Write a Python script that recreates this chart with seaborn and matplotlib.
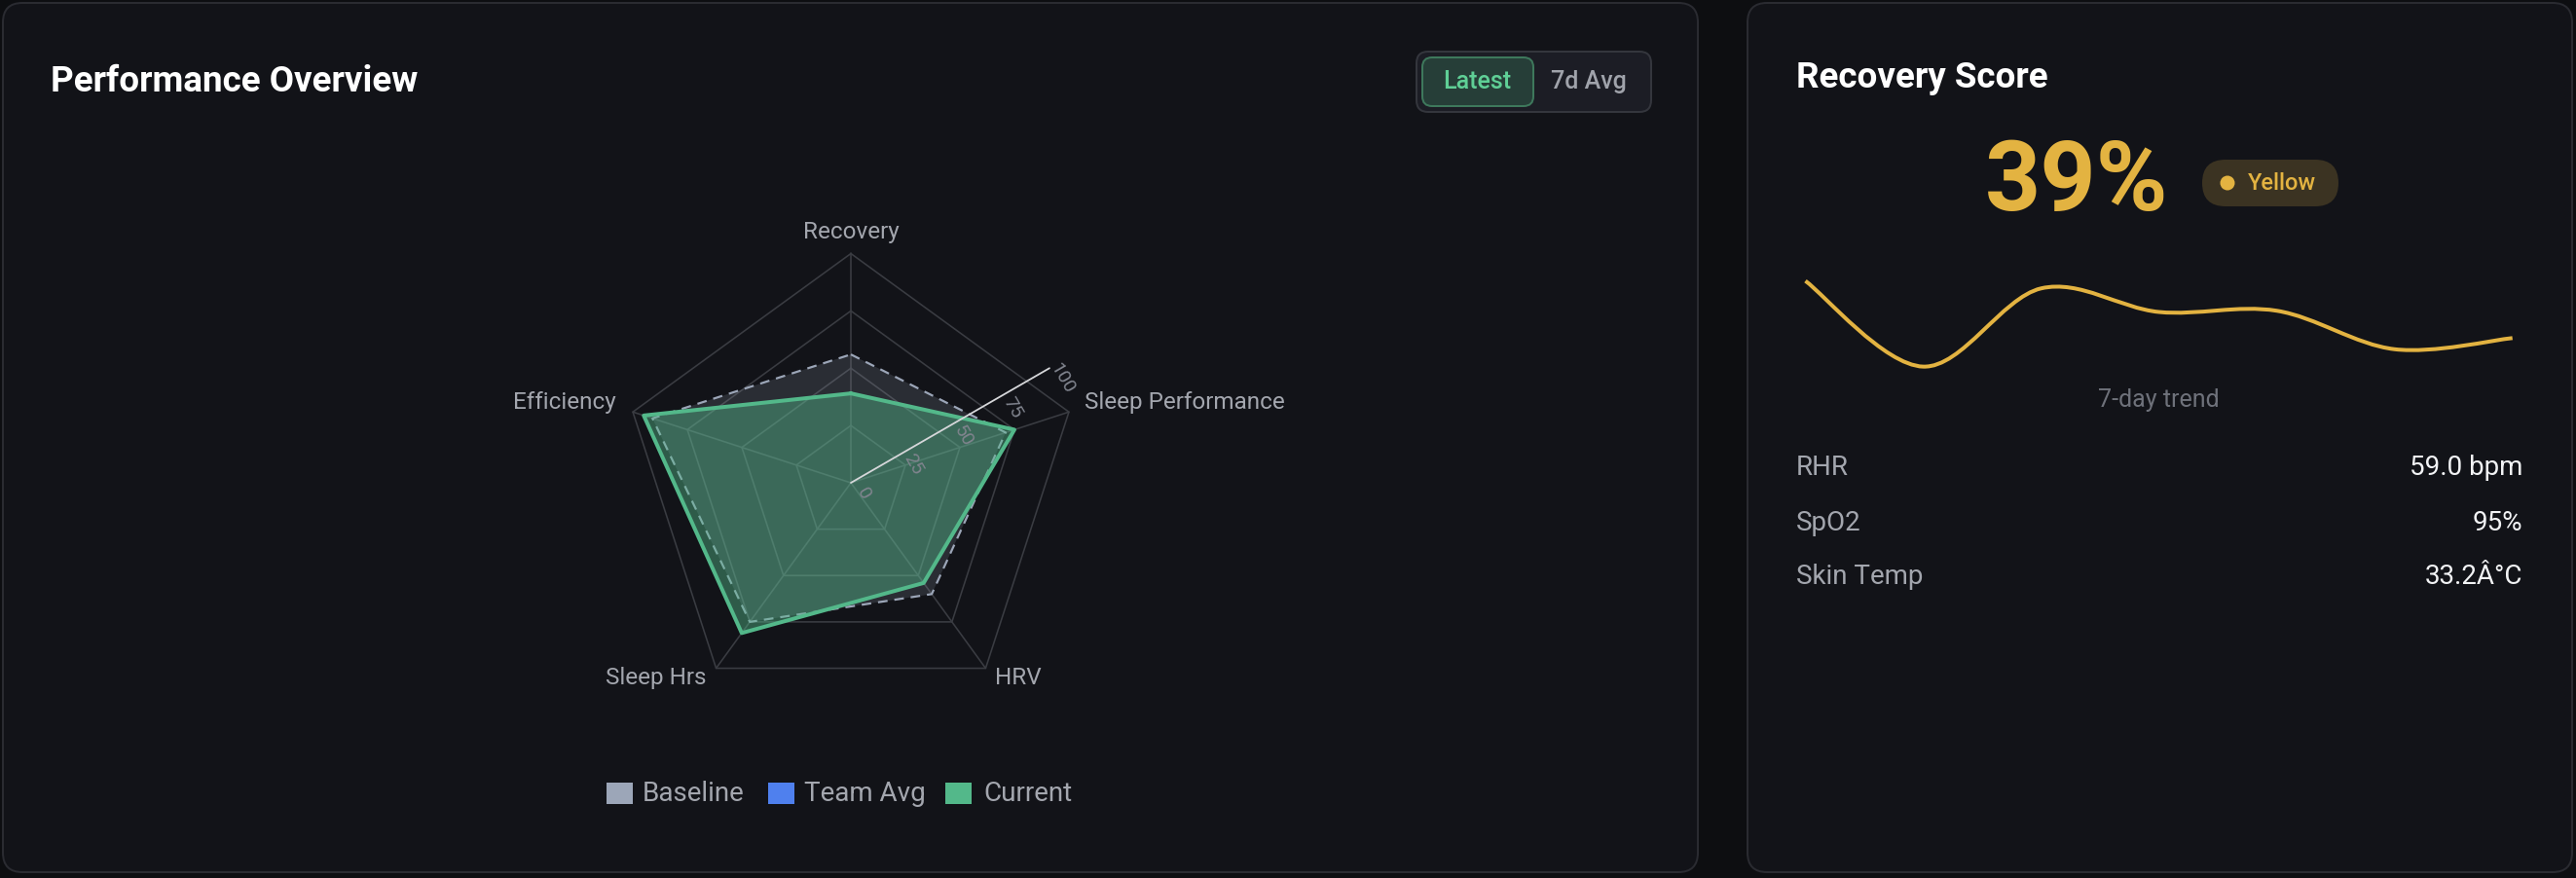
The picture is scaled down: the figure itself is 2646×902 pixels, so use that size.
import numpy as np
import matplotlib
matplotlib.use("Agg")
import matplotlib.pyplot as plt
import seaborn as sns
from matplotlib.patches import FancyBboxPatch, PathPatch, Circle, Rectangle
from matplotlib.path import Path

# ---------------- data ----------------
categories = ["Recovery", "Sleep Performance", "HRV", "Sleep Hrs", "Efficiency"]
baseline_values = [56, 71, 60, 75, 91]
team_avg_values = []          # listed in legend, no visible trace
current_values = [39, 75, 54, 81, 95]
radial_ticks = [0, 25, 50, 75, 100]
legend_labels = ["Baseline", "Team Avg", "Current"]
legend_colors = ["#9ca6b8", "#4f80ee", "#53b88a"]

trend_days = [1, 2, 3, 4, 5, 6, 7]
trend_values = [62, 27.5, 59, 49.5, 50, 34.5, 39]

recovery_score = 39
recovery_zone = "Yellow"
stat_labels = ["RHR", "SpO2", "Skin Temp"]
stat_values = ["59.0 bpm", "95%", "33.2Â°C"]
toggle_labels = ["Latest", "7d Avg"]

# ---------------- style ----------------
W, H, DPI = 2646, 902, 100
sns.set_theme(style="dark")
plt.rcParams['font.family'] = ['Roboto', 'DejaVu Sans']

PAGE = "#0d0e11"
CARD = "#121318"
CARD_EDGE = "#2a2b31"
GRID = "#3a3c42"
LABEL = "#a3a6ae"
GOLD = "#e3b341"
GREEN = "#53b88a"


def px(v):
    return v * 72.0 / DPI


fig = plt.figure(figsize=(W / DPI, H / DPI), dpi=DPI)
fig.patch.set_facecolor(PAGE)

bg = fig.add_axes([0, 0, 1, 1])
bg.set_xlim(0, W)
bg.set_ylim(H, 0)
bg.axis("off")
bg.set_facecolor("none")

# cards
for (x0, y0, w, h) in [(3, 3, 1741, 893), (1795, 3, 847, 893)]:
    bg.add_patch(FancyBboxPatch((x0, y0), w, h,
                                boxstyle="round,pad=0,rounding_size=20",
                                fc=CARD, ec=CARD_EDGE, lw=px(2)))

# left title
bg.text(52, 94, "Performance Overview", color="white", fontsize=26.5,
        fontweight="bold", ha="left", va="baseline")

# toggle
bg.add_patch(FancyBboxPatch((1455, 53), 241, 62,
                            boxstyle="round,pad=0,rounding_size=12",
                            fc="#1c1d25", ec="#34363d", lw=px(2)))
bg.add_patch(FancyBboxPatch((1461, 59), 114, 50,
                            boxstyle="round,pad=0,rounding_size=10",
                            fc="#263e38", ec="#3e785c", lw=px(2)))
bg.text(1517, 91, toggle_labels[0], color="#5fcf96", fontsize=18,
        fontweight="medium", ha="center", va="baseline")
bg.text(1632, 91, toggle_labels[1], color="#a0a3ab", fontsize=18,
        fontweight="medium", ha="center", va="baseline")

# ---------------- radar ----------------
CX, CY, R = 874, 496, 235.5
half = 300
rax = fig.add_axes([(CX - half) / W, (H - CY - half) / H, 2 * half / W, 2 * half / H])
lim = half / R * 100
rax.set_xlim(-lim, lim)
rax.set_ylim(-lim, lim)
rax.axis("off")
rax.set_facecolor("none")

theta = np.deg2rad(90 - 72 * np.arange(len(categories)))


def to_xy(vals):
    v = np.asarray(vals, dtype=float)
    xs = v * np.cos(theta)
    ys = v * np.sin(theta)
    return np.append(xs, xs[0]), np.append(ys, ys[0])


# grid polygons and spokes
for lvl in radial_ticks[1:]:
    gx, gy = to_xy([lvl] * len(categories))
    rax.plot(gx, gy, color=GRID, lw=px(1.6), zorder=1)
for t in theta:
    rax.plot([0, 100 * np.cos(t)], [0, 100 * np.sin(t)], color=GRID, lw=px(1.6), zorder=1)

# baseline
bx, by = to_xy(baseline_values)
rax.fill(bx, by, color=legend_colors[0], alpha=0.18, lw=0, zorder=2)
sns.lineplot(x=bx, y=by, sort=False, estimator=None, ax=rax, color=legend_colors[0],
             linewidth=px(2.2), linestyle=(0, (4.5, 3.2)), zorder=3)

# current
cxs, cys = to_xy(current_values)
rax.fill(cxs, cys, color=GREEN, alpha=0.44, lw=0, zorder=4)
sns.lineplot(x=cxs, y=cys, sort=False, estimator=None, ax=rax, color=GREEN,
             linewidth=px(4), zorder=5)

# radial axis
ang = np.deg2rad(30)
rax.plot([0, 100 * np.cos(ang)], [0, 100 * np.sin(ang)], color="#d6d7da", lw=px(1.8), zorder=6)
perp = np.array([np.sin(ang), -np.cos(ang)])
along = np.array([np.cos(ang), np.sin(ang)])
off = perp * 16 + along * 6
for tv in radial_ticks:
    rax.annotate(str(tv), (tv * np.cos(ang), tv * np.sin(ang)), xytext=(off[0], off[1]),
                 textcoords="offset pixels", ha="center", va="center", rotation=-60,
                 color="#80848e", fontsize=14, zorder=7)

# category labels
label_offsets = [((0, 15.5), "center"), ((16, 3), "left"), ((10, -16.5), "left"),
                 ((-10, -16.5), "right"), ((-17, 3), "right")]
for i, cat in enumerate(categories):
    (dx, dy), ha = label_offsets[i]
    rax.annotate(cat, (100 * np.cos(theta[i]), 100 * np.sin(theta[i])), xytext=(dx, dy),
                 textcoords="offset pixels", ha=ha, va="baseline", color=LABEL,
                 fontsize=17.5, zorder=7)

# legend
leg_sq_x = [623, 789, 971]
leg_tx_x = [660, 826, 1010]
for i, lab in enumerate(legend_labels):
    bg.add_patch(Rectangle((leg_sq_x[i], 804), 27, 22, fc=legend_colors[i], ec="none"))
    bg.text(leg_tx_x[i], 823, lab, color=LABEL, fontsize=20, ha="left", va="baseline")

# ---------------- recovery card ----------------
bg.text(1845, 90, "Recovery Score", color="white", fontsize=26.5,
        fontweight="bold", ha="left", va="baseline")
bg.text(2133, 216, f"{recovery_score}%", color=GOLD, fontsize=72,
        fontweight="bold", ha="center", va="baseline")
bg.add_patch(FancyBboxPatch((2262, 164), 140, 48,
                            boxstyle="round,pad=0,rounding_size=24",
                            fc="#3b3322", ec="none"))
bg.add_patch(Circle((2288, 188), 7.5, fc=GOLD, ec="none"))
bg.text(2309, 195, recovery_zone, color=GOLD, fontsize=17, fontweight="medium",
        ha="left", va="baseline")

# sparkline
x0p, x1p, ytop, ybot = 1854.5, 2580.7, 270, 395
sax = fig.add_axes([x0p / W, (H - ybot) / H, (x1p - x0p) / W, (ybot - ytop) / H])
sax.set_xlim(trend_days[0], trend_days[-1])
sax.set_ylim(20.3, 69.3)
sax.axis("off")
sax.set_facecolor("none")


def smooth_path(xs, ys):
    pts = np.column_stack([xs, ys]).astype(float)
    n = len(pts)
    verts = [pts[0]]
    codes = [Path.MOVETO]
    for i in range(n - 1):
        p0 = pts[i - 1] if i > 0 else pts[i]
        p1, p2 = pts[i], pts[i + 1]
        p3 = pts[i + 2] if i + 2 < n else pts[i + 1]
        verts += [p1 + (p2 - p0) / 6.0, p2 - (p3 - p1) / 6.0, p2]
        codes += [Path.CURVE4] * 3
    return Path(verts, codes)


sax.add_patch(PathPatch(smooth_path(trend_days, trend_values), fc="none", ec=GOLD,
                        lw=px(4), clip_on=False, capstyle="butt", joinstyle="round"))

bg.text(2217.5, 418, "7-day trend", color="#6e717a", fontsize=18, ha="center", va="baseline")

stat_base = [488, 545, 600]
for lab, val, yb in zip(stat_labels, stat_values, stat_base):
    bg.text(1845, yb, lab, color=LABEL, fontsize=20, ha="left", va="baseline")
    bg.text(2591, yb, val, color="#f2f3f5", fontsize=20, ha="right", va="baseline")

fig.savefig("out.png", dpi=DPI, facecolor=PAGE)
